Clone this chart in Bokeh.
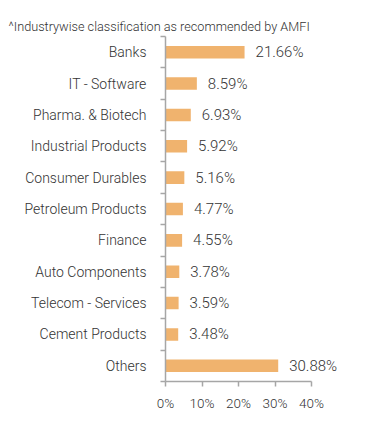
from bokeh.plotting import figure
from bokeh.models import Range1d, FixedTicker, ColumnDataSource
from bokeh.core.properties import value
from bokeh.embed import file_html
from bokeh.resources import INLINE

categories = ["Banks", "IT - Software", "Pharma. & Biotech", "Industrial Products",
              "Consumer Durables", "Petroleum Products", "Finance", "Auto Components",
              "Telecom - Services", "Cement Products", "Others"]
weights = [21.66, 8.59, 6.93, 5.92, 5.16, 4.77, 4.55, 3.78, 3.59, 3.48, 30.88]
x_ticks = [0, 10, 20, 30, 40]
x_tick_labels = ["0%", "10%", "20%", "30%", "40%"]
title_text = "^Industrywise classification as recommended by AMFI"

FONT = "Roboto Light"
TEXT_COLOR = "#333333"
BAR_COLOR = "#F0B36E"
AXIS_COLOR = "#a6a6a6"

pos = list(range(len(categories)))
src = ColumnDataSource(dict(
    y=pos, w=weights, cat=categories,
    lab=[f"{v:.2f}%" for v in weights],
))

px_per_unit = 146 / 40.0
frame_w = 208

p = figure(
    output_backend="svg", toolbar_location=None,
    frame_width=frame_w, frame_height=345,
    x_range=Range1d(0, frame_w / px_per_unit),
    y_range=Range1d(len(categories) - 0.5, -0.5),
    min_border_left=165, min_border_right=10, min_border_bottom=30,
    min_border_top=36,
)
p.outline_line_color = None
p.grid.grid_line_color = None
p.background_fill_color = "white"
p.border_fill_color = "white"

p.hbar(y="y", left=0, right="w", height=0.4, source=src,
       fill_color=BAR_COLOR, line_color=None)
p.text(x="w", y="y", text="lab", source=src, x_offset=11,
       text_baseline="middle", text_align="left",
       text_font=value(FONT), text_font_size="15px", text_color=TEXT_COLOR)

# x axis
xa = p.xaxis[0]
xa.ticker = FixedTicker(ticks=x_ticks)
xa.major_label_overrides = {t: l for t, l in zip(x_ticks, x_tick_labels)}
xa.bounds = (x_ticks[0], x_ticks[-1])
xa.minor_tick_line_color = None
xa.major_tick_out = 5
xa.major_tick_in = 0
xa.major_label_standoff = 8
xa.axis_line_color = AXIS_COLOR
xa.axis_line_width = 1.5
xa.major_tick_line_color = AXIS_COLOR
xa.major_tick_line_width = 1.5
xa.major_label_text_font = FONT
xa.major_label_text_font_size = "13.5px"
xa.major_label_text_color = TEXT_COLOR

# y axis
ya = p.yaxis[0]
ya.ticker = FixedTicker(ticks=pos, minor_ticks=[i - 0.5 for i in range(len(categories) + 1)])
ya.major_label_overrides = {i: c for i, c in zip(pos, categories)}
ya.major_tick_out = 0
ya.major_tick_in = 0
ya.minor_tick_out = 5
ya.minor_tick_in = 0
ya.major_label_standoff = 14
ya.axis_line_color = AXIS_COLOR
ya.axis_line_width = 1.5
ya.minor_tick_line_color = AXIS_COLOR
ya.minor_tick_line_width = 1.5
ya.major_label_text_font = FONT
ya.major_label_text_font_size = "14px"
ya.major_label_text_color = TEXT_COLOR

p.title.text = title_text
p.title.align = "left"
p.title.offset = -157
p.title.text_font = FONT
p.title.text_font_size = "12.7px"
p.title.text_font_style = "normal"
p.title.text_color = TEXT_COLOR
p.title.standoff = 5

open("out.html", "w").write(file_html(p, INLINE))
